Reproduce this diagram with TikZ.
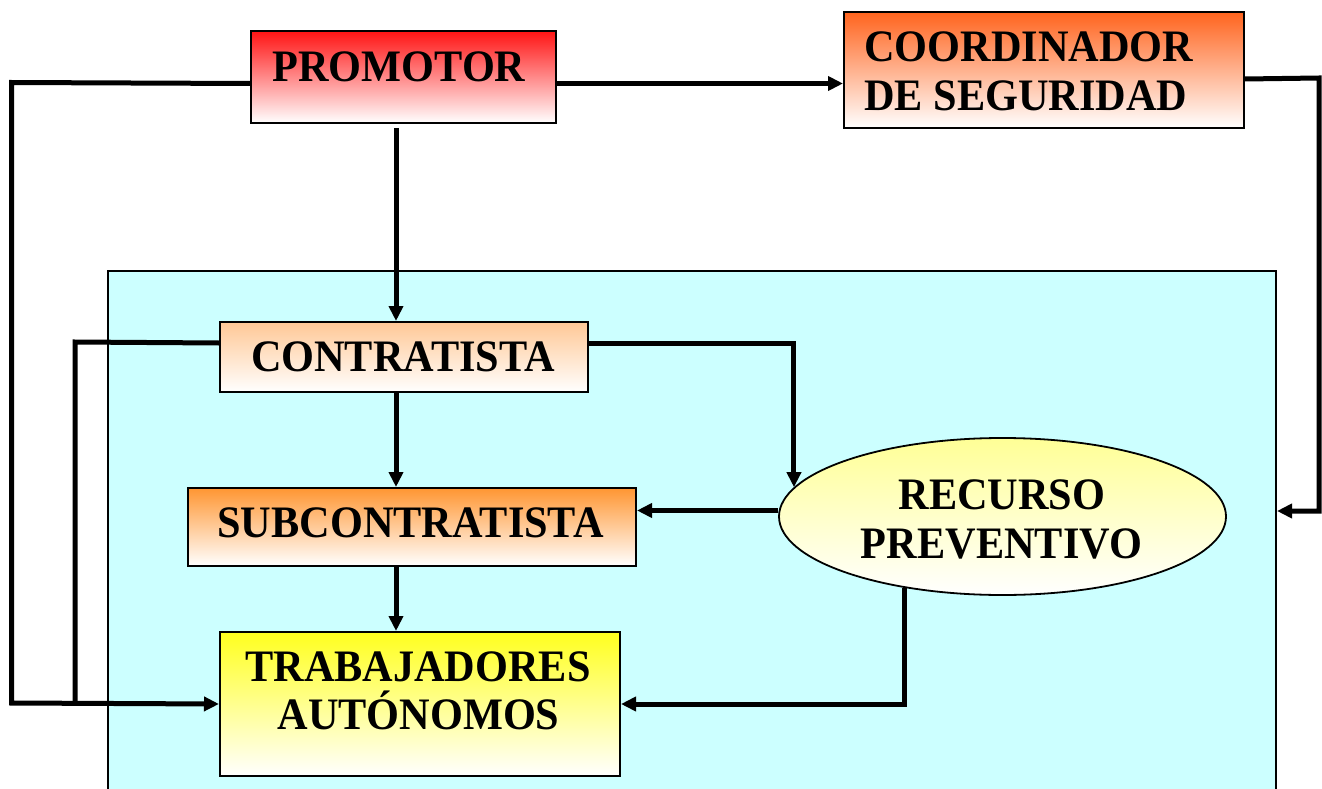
\documentclass[tikz,border=0pt]{standalone}
\usepackage{fontspec}
\setmainfont{Liberation Serif}[FakeStretch=0.94]
\usetikzlibrary{arrows.meta,shapes.geometric}
\definecolor{bgcyan}{RGB}{204,255,255}
\definecolor{cred}{RGB}{255,20,20}
\definecolor{corange}{RGB}{255,100,30}
\definecolor{cpeach}{RGB}{255,200,150}
\definecolor{clorange}{RGB}{255,150,50}
\definecolor{cyellow}{RGB}{255,255,30}
\definecolor{clyellow}{RGB}{255,255,150}
\begin{document}
\begin{tikzpicture}[x=1pt,y=-1pt,
  box/.style={draw=black, line width=2pt, rectangle, inner sep=0pt, anchor=north west, bottom color=white},
  lbl/.style={inner sep=0pt, font=\fontsize{45}{50}\selectfont\bfseries},
  conn/.style={line width=5pt, line join=miter},
  arr/.style={conn, -{Triangle[length=15pt,width=14pt]}}]
\useasboundingbox (0,0) rectangle (1322,789);
% background region
\node[draw=black, line width=2pt, fill=bgcyan, rectangle, inner sep=0pt, anchor=north west,
      minimum width=1168pt, minimum height=530pt] (bg) at (107,270) {};
% boxes
\node[box, top color=cred, minimum width=305pt, minimum height=92pt] (p) at (250,30) {};
\node[box, top color=corange, minimum width=400pt, minimum height=116pt] (c) at (843,11) {};
\node[box, top color=cpeach, minimum width=368pt, minimum height=70pt] (ct) at (219,321) {};
\node[box, top color=clorange, minimum width=448pt, minimum height=78pt] (s) at (187,487) {};
\node[box, top color=cyellow, minimum width=400pt, minimum height=144pt] (t) at (219,631) {};
\node[draw=black, line width=1.8pt, ellipse, inner sep=0pt, top color=clyellow, bottom color=white,
      minimum width=447pt, minimum height=157pt] (r) at (1002.5,516.5) {};
% texts
\node[lbl, anchor=base] (pt) at (399,82) {PROMOTOR};
\node[lbl, anchor=base west] (ct1) at (864,62) {COORDINADOR};
\node[lbl, anchor=base west] (ct2) at (864,111) {DE SEGURIDAD};
\node[lbl, anchor=base] (ctt) at (403,371) {CONTRATISTA};
\node[lbl, anchor=base] (st) at (410.5,537) {SUBCONTRATISTA};
\node[lbl, anchor=base] (tt1) at (418,681) {TRABAJADORES};
\node[lbl, anchor=base] (tt2) at (418.5,729.5) {AUTÓNOMOS};
\node[lbl, anchor=base] (rt1) at (1002,509) {RECURSO};
\node[lbl, anchor=base] (rt2) at (1001.5,558) {PREVENTIVO};
% helper coordinates
\coordinate (vx) at (396,0);
\coordinate (pw) at ([yshift=-6.5pt]p.west);
\coordinate (pe) at ([yshift=-6.5pt]p.east);
\coordinate (ce) at ([yshift=-9pt]c.east);
\coordinate (ctw) at ([yshift=14pt]ct.west);
\coordinate (cte) at ([yshift=14pt]ct.east);
\coordinate (rl) at ([yshift=6pt]r.west);
\coordinate (k0) at (11.5,82.5);
\coordinate (k1) at (11.5,703);
\coordinate (k2) at (75,342);
\coordinate (k3) at (75,703);
\coordinate (k4) at (1319,78);
\coordinate (k5) at (1319,511);
% connectors
\draw[arr] (pw) -- (k0) -- (k1) -- (t.west);
\draw[conn] (ctw) -- (k2) -- (k3);
\draw[arr] (pe) -- (pe -| c.west);
\draw[arr, shorten <=4pt] (vx |- p.south) -- (vx |- ct.north);
\draw[arr] (vx |- ct.south) -- (vx |- s.north);
\draw[arr] (vx |- s.south) -- (vx |- t.north);
\draw[arr] (ce) -- (k4) -- (k5) -- (k5 -| bg.east);
\draw[arr] (cte) -| (r.172);
\draw[arr] (rl) -- (rl -| s.east);
\draw[arr] (r.216.6) |- (t.east);
\end{tikzpicture}
\end{document}
